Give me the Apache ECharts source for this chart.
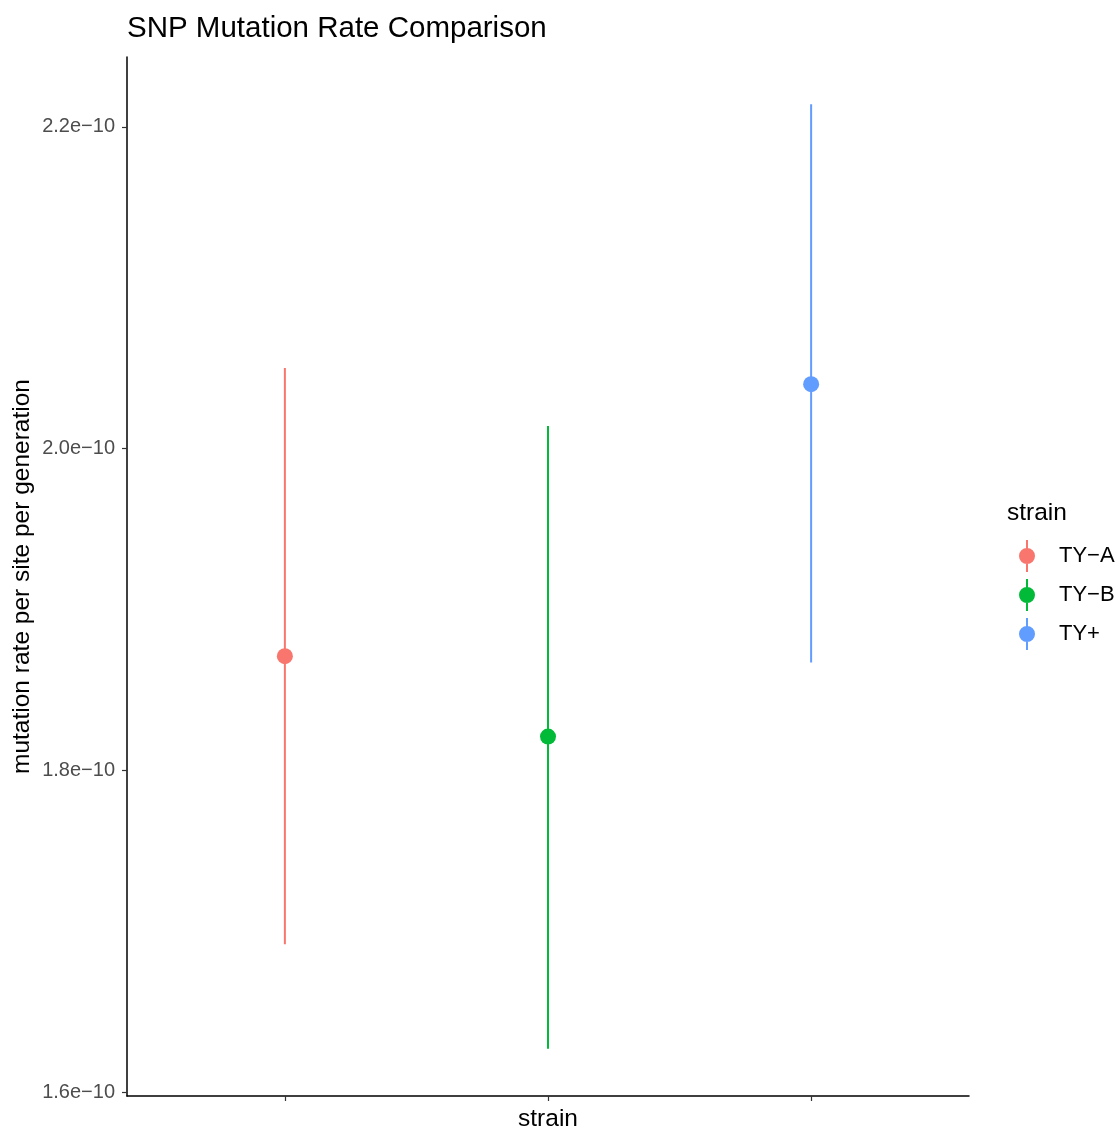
<!DOCTYPE html>
<html>
<head>
<meta charset="utf-8">
<script src="https://cdn.jsdelivr.net/npm/echarts@6/dist/echarts.min.js"></script>
<style>html,body{margin:0;padding:0;background:#fff}#c{width:1120px;height:1130px}</style>
</head>
<body>
<div id="c"></div>
<script>
// values in units of 1e-10 (mutation rate per site per generation)
const strains = ['TY\u2212A', 'TY\u2212B', 'TY+'];
const rateMean = [1.871, 1.821, 2.040];
const rateLower = [1.692, 1.627, 1.867];
const rateUpper = [2.050, 2.014, 2.214];
const yTicks = [1.6, 1.8, 2.0, 2.2];
const colors = ['#F8766D', '#00BA38', '#619CFF'];

const FONT = '"Liberation Sans", Arial, Helvetica, sans-serif';
const lo = Math.min(...rateLower), hi = Math.max(...rateUpper);
const pad = (hi - lo) * 0.05;

const iconPath = 'path://M7,0H9V32H7Z M0,16A8,8 0 1,1 16,16A8,8 0 1,1 0,16Z';

const series = [];
strains.forEach((s, i) => {
  series.push({
    name: s,
    type: 'custom',
    data: [[i + 1, rateLower[i], rateUpper[i]]],
    renderItem: function (params, api) {
      const a = api.coord([api.value(0), api.value(1)]);
      const b = api.coord([api.value(0), api.value(2)]);
      return {
        type: 'line',
        shape: { x1: a[0], y1: a[1], x2: b[0], y2: b[1] },
        style: { stroke: colors[i], lineWidth: 2 }
      };
    },
    z: 2
  });
  series.push({
    name: s,
    type: 'scatter',
    data: [[i + 1, rateMean[i]]],
    symbol: 'circle',
    symbolSize: 16,
    itemStyle: { color: colors[i], opacity: 1 },
    z: 3
  });
});

const chart = echarts.init(document.getElementById('c'), null, { renderer: 'canvas' });
chart.setOption({
  animation: false,
  color: colors,
  textStyle: { fontFamily: FONT },
  title: [
    { text: 'SNP Mutation Rate Comparison', left: 122, top: 9,
      textStyle: { fontFamily: FONT, fontSize: 29.5, fontWeight: 'normal', color: '#000' } },
    { text: 'strain', left: 1002, top: 496,
      textStyle: { fontFamily: FONT, fontSize: 24.5, fontWeight: 'normal', color: '#000' } }
  ],
  legend: {
    data: strains.map((s, i) => ({ name: s, icon: iconPath, itemStyle: { color: colors[i] } })),
    orient: 'vertical',
    left: 1014,
    top: 535,
    itemWidth: 16,
    itemHeight: 32,
    itemGap: 7,
    selectedMode: false,
    textStyle: { fontFamily: FONT, fontSize: 22, color: '#000', padding: [0, 0, 0, 19] }
  },
  grid: { left: 127, right: 151, top: 57, bottom: 34, containLabel: false, outerBoundsMode: 'none' },
  xAxis: {
    type: 'value',
    min: 0.4,
    max: 3.6,
    name: 'strain',
    nameLocation: 'middle',
    nameGap: 11,
    nameMoveOverlap: false,
    nameTextStyle: { fontFamily: FONT, fontSize: 24.5, color: '#000', verticalAlign: 'top' },
    axisLine: { show: true, onZero: false, lineStyle: { color: '#000', width: 1.5 } },
    axisTick: { show: true, length: 5, customValues: [1, 2, 3], lineStyle: { color: '#333', width: 1.2 } },
    axisLabel: { show: false },
    splitLine: { show: false }
  },
  yAxis: {
    type: 'value',
    min: lo - pad,
    max: hi + pad,
    name: 'mutation rate per site per generation',
    nameLocation: 'middle',
    nameGap: 92,
    nameMoveOverlap: false,
    nameTextStyle: { fontFamily: FONT, fontSize: 24.5, color: '#000' },
    axisLine: { show: true, onZero: false, lineStyle: { color: '#000', width: 1.5 } },
    axisTick: { show: true, length: 5, customValues: yTicks, lineStyle: { color: '#333', width: 1.2 } },
    axisLabel: {
      show: true, customValues: yTicks, margin: 12,
      fontFamily: FONT, fontSize: 20, color: '#4d4d4d',
      formatter: v => v.toFixed(1) + 'e\u221210'
    },
    splitLine: { show: false }
  },
  series: series
});
</script>
</body>
</html>
